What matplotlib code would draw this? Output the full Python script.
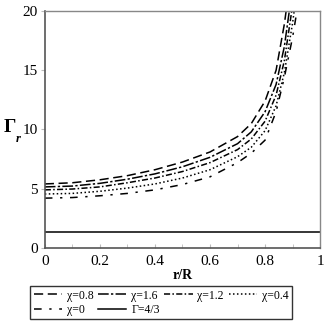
import matplotlib
matplotlib.use('Agg')
import matplotlib.pyplot as plt

plt.rcParams['font.family'] = ['Liberation Serif', 'DejaVu Serif']

# values
r = [0, 0.1, 0.2, 0.3, 0.4, 0.5, 0.6, 0.7, 0.75, 0.8, 0.84, 0.87, 0.9, 0.92]
gamma_chi08 = [5.4, 5.5, 5.75, 6.1, 6.6, 7.25, 8.1, 9.4, 10.5, 12.4, 15.0, 18.9, 24.0, 28.0]
gamma_chi16 = [5.15, 5.22, 5.45, 5.8, 6.25, 6.85, 7.65, 8.8, 9.8, 11.5, 13.8, 17.0, 22.0, 26.0]
gamma_chi12 = [4.9, 4.97, 5.15, 5.5, 5.9, 6.45, 7.2, 8.3, 9.2, 10.7, 12.9, 15.8, 20.5, 24.0]
gamma_chi04 = [4.55, 4.6, 4.78, 5.05, 5.4, 5.9, 6.6, 7.7, 8.5, 9.9, 12.0, 14.8, 19.0, 22.5]
gamma_chi0 = [4.2, 4.25, 4.4, 4.6, 4.9, 5.35, 6.0, 7.2, 8.0, 9.1, 11.5, 14.4, 17.8, 20.6]
gamma_ad = 4 / 3

labels = ['χ=0.8', 'χ=1.6', 'χ=1.2', 'χ=0.4', 'χ=0', 'Γ=4/3']
dashes = [(6, 3), (7, 1.5, 1.5, 1.5), (4, 1.5, 1, 1.5), (1, 1.6), (5, 5, 1.5, 5), None]

fig = plt.figure(figsize=(3.27, 3.27), dpi=100)
ax = fig.add_axes([0.137, 0.242, 0.842, 0.724])

handles = []
for ys, lab, d in zip([gamma_chi08, gamma_chi16, gamma_chi12, gamma_chi04, gamma_chi0],
                      labels[:5], dashes[:5]):
  ln, = ax.plot(r, ys, color='black', lw=1.1, dashes=d, label=lab)
  handles.append(ln)
ln = ax.axhline(gamma_ad, color='black', lw=1.1, label=labels[5])
handles.append(ln)

ax.set_xlim(0, 1)
ax.set_ylim(0, 20)
ax.set_xticks([0, 0.2, 0.4, 0.6, 0.8, 1])
ax.set_xticklabels(['0', '0.2', '0.4', '0.6', '0.8', '1'])
ax.set_xticks([0.1, 0.3, 0.5, 0.7, 0.9], minor=True)
ax.set_yticks([0, 5, 10, 15, 20])
ax.tick_params(axis='x', which='both', direction='in', length=3, color='#bbbbbb', labelsize=11, pad=5)
ax.tick_params(axis='y', direction='out', length=3, color='#bbbbbb', labelsize=11, pad=2)

for s in ['left', 'bottom']:
  ax.spines[s].set_color('#555555')
  ax.spines[s].set_linewidth(1.2)
for s in ['top', 'right']:
  ax.spines[s].set_color('#888888')
  ax.spines[s].set_linewidth(1.0)

ax.set_xlabel('r/R', fontweight='bold', fontsize=10, labelpad=1)
# y label: bold Gamma with italic subscript r
fig.text(10 / 327, 1 - 127 / 327, 'Γ', fontsize=14, fontweight='bold', ha='center', va='center')
fig.text(18 / 327, 1 - 139 / 327, 'r', fontsize=9, fontweight='bold', fontstyle='italic',
         ha='center', va='center')

order = [0, 4, 1, 5, 2, 3]
leg = fig.legend([handles[i] for i in order], [labels[i] for i in order],
                 loc='upper left', bbox_to_anchor=(30 / 327, 1 - 286 / 327),
                 ncol=4, fontsize=8.5, frameon=True, fancybox=False,
                 handlelength=2.4, handletextpad=0.4, columnspacing=0.4,
                 labelspacing=0.2, borderpad=0.3, borderaxespad=0)
leg.get_frame().set_edgecolor('black')
leg.get_frame().set_linewidth(1.0)

fig.savefig('out.png', dpi=100)
